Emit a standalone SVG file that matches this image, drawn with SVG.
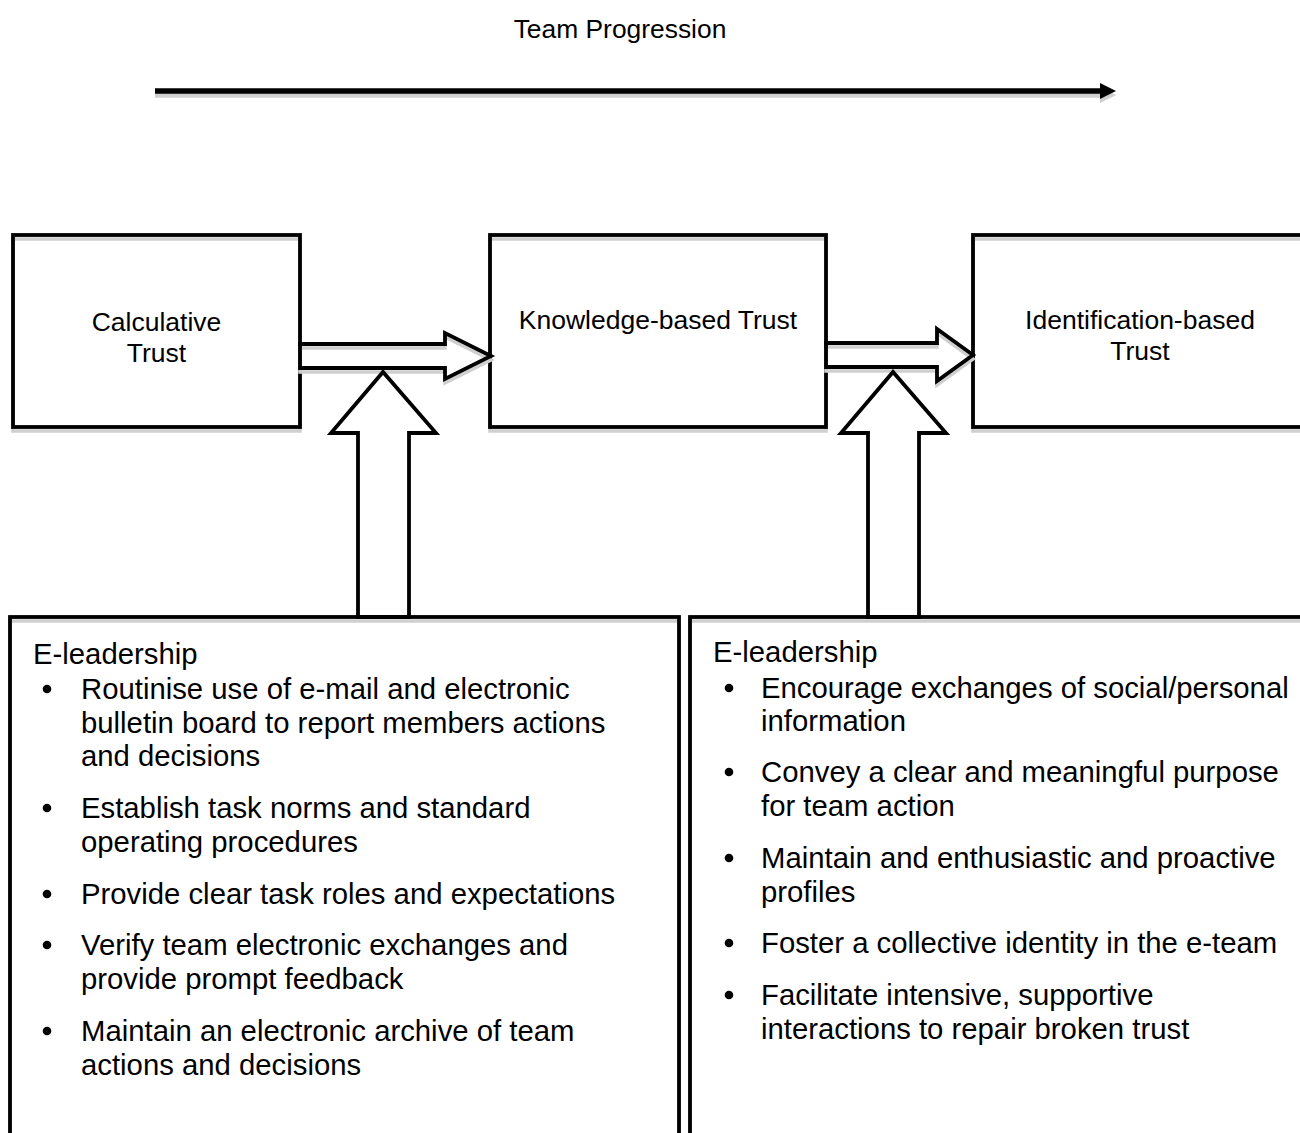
<svg xmlns="http://www.w3.org/2000/svg" width="1300" height="1133" viewBox="0 0 1300 1133">
  <style>
    text { font-family: "Liberation Sans", Arial, sans-serif; fill: #000; }
    .lbl { font-size: 26.5px; text-anchor: middle; }
    .body { font-size: 29.3px; }
    .title { font-size: 26.4px; text-anchor: middle; }
    .shape { fill: none; stroke: #000; stroke-width: 3.8; stroke-linejoin: miter; }
    .shadow { fill: none; stroke: #cfcfcf; stroke-width: 3.5; }
    .dot { fill: #000; }
  </style>
  <defs>
    <marker id="head" markerUnits="userSpaceOnUse" markerWidth="18" markerHeight="18" refX="0" refY="8" orient="auto">
      <path d="M0,0 L16,8 L0,16 Z" fill="#000"/>
    </marker>
    <marker id="headShadow" markerUnits="userSpaceOnUse" markerWidth="18" markerHeight="18" refX="0" refY="8" orient="auto">
      <path d="M0,0 L16,8 L0,16 Z" fill="#cfcfcf"/>
    </marker>
  </defs>
  <rect width="1300" height="1133" fill="#fff"/>

  <!-- progression arrow along the top -->
  <g id="progression">
    <line x1="155" y1="95" x2="1100" y2="95" stroke="#cfcfcf" stroke-width="5.5" marker-end="url(#headShadow)"/>
    <line x1="155" y1="91" x2="1100" y2="91" stroke="#000" stroke-width="5.5" marker-end="url(#head)"/>
    <text class="title" x="620" y="38">Team Progression</text>
  </g>

  <!-- trust stages -->
  <g id="calculative">
    <rect class="shadow" x="13" y="239" width="287" height="192"/>
    <rect class="shape" x="13" y="235" width="287" height="192"/>
    <text class="lbl" x="156.5" y="331">Calculative</text>
    <text class="lbl" x="156.5" y="362">Trust</text>
  </g>
  <g id="knowledge">
    <rect class="shadow" x="490" y="239" width="336" height="192"/>
    <rect class="shape" x="490" y="235" width="336" height="192"/>
    <text class="lbl" x="658" y="329">Knowledge-based Trust</text>
  </g>
  <g id="identification">
    <rect class="shadow" x="973" y="239" width="340" height="192"/>
    <rect class="shape" x="973" y="235" width="340" height="192"/>
    <text class="lbl" x="1140" y="329">Identification-based</text>
    <text class="lbl" x="1140" y="360">Trust</text>
  </g>

  <!-- block arrows between stages and from leadership boxes -->
  <g id="connectors">
    <polygon class="shadow" points="300,348 445,348 445,337 491,360 445,383 445,372 300,372"/>
    <polygon class="shape" points="300,344 445,344 445,333 491,356 445,379 445,368 300,368"/>
    <polygon class="shadow" points="826,347 937,347 937,333 973,359 937,385 937,371 826,371"/>
    <polygon class="shape" points="826,343 937,343 937,329 973,355 937,381 937,367 826,367"/>
    <polygon class="shape" points="358,617 358,433 331,433 383,372 436,433 409,433 409,617"/>
    <polygon class="shape" points="868,617 868,433 841,433 893,372 946,433 919,433 919,617"/>
  </g>

  <!-- e-leadership practices, first transition -->
  <g id="leadership-left">
    <rect class="shadow" x="10" y="621" width="669" height="560"/>
    <rect class="shape" x="10" y="617" width="669" height="560"/>
    <text class="body" x="33" y="664">E-leadership</text>
    <circle class="dot" cx="47" cy="689" r="4.3"/>
    <text class="body" x="81" y="699">Routinise use of e-mail and electronic</text>
    <text class="body" x="81" y="733">bulletin board to report members actions</text>
    <text class="body" x="81" y="766">and decisions</text>
    <circle class="dot" cx="47" cy="808" r="4.3"/>
    <text class="body" x="81" y="818">Establish task norms and standard</text>
    <text class="body" x="81" y="852">operating procedures</text>
    <circle class="dot" cx="47" cy="894" r="4.3"/>
    <text class="body" x="81" y="904">Provide clear task roles and expectations</text>
    <circle class="dot" cx="47" cy="945" r="4.3"/>
    <text class="body" x="81" y="955">Verify team electronic exchanges and</text>
    <text class="body" x="81" y="989">provide prompt feedback</text>
    <circle class="dot" cx="47" cy="1031" r="4.3"/>
    <text class="body" x="81" y="1041">Maintain an electronic archive of team</text>
    <text class="body" x="81" y="1075">actions and decisions</text>
  </g>

  <!-- e-leadership practices, second transition -->
  <g id="leadership-right">
    <rect class="shadow" x="690" y="621" width="620" height="560"/>
    <rect class="shape" x="690" y="617" width="620" height="560"/>
    <text class="body" x="713" y="662">E-leadership</text>
    <circle class="dot" cx="729" cy="688" r="4.3"/>
    <text class="body" x="761" y="698">Encourage exchanges of social/personal</text>
    <text class="body" x="761" y="731">information</text>
    <circle class="dot" cx="729" cy="772" r="4.3"/>
    <text class="body" x="761" y="782">Convey a clear and meaningful purpose</text>
    <text class="body" x="761" y="816">for team action</text>
    <circle class="dot" cx="729" cy="858" r="4.3"/>
    <text class="body" x="761" y="868">Maintain and enthusiastic and proactive</text>
    <text class="body" x="761" y="902">profiles</text>
    <circle class="dot" cx="729" cy="943" r="4.3"/>
    <text class="body" x="761" y="953">Foster a collective identity in the e-team</text>
    <circle class="dot" cx="729" cy="995" r="4.3"/>
    <text class="body" x="761" y="1005">Facilitate intensive, supportive</text>
    <text class="body" x="761" y="1039">interactions to repair broken trust</text>
  </g>
</svg>
